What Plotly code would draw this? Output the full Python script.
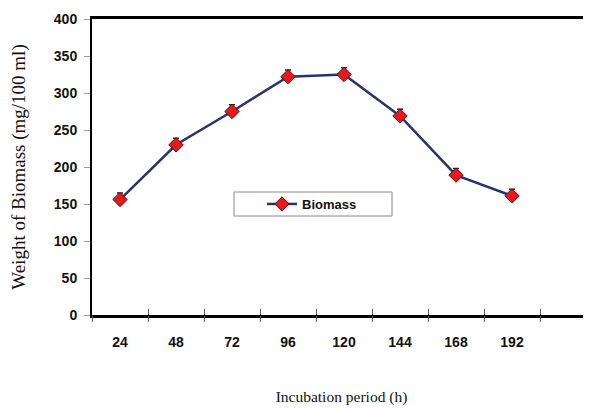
import plotly.graph_objects as go

categories = ["24", "48", "72", "96", "120", "144", "168", "192"]
biomass = [156, 230, 275, 322, 325, 269, 189, 161]
errors = [9, 9, 9, 9, 9, 9, 9, 9]
y_ticks = [0, 50, 100, 150, 200, 250, 300, 350, 400]

xpos = list(range(len(categories)))
# page body has an 8px margin, so the figure is made 8px smaller
OFF = 8
W, H = 591 - OFF, 408 - OFF
PL, PT, PB = 92, 19, 315           # plot area in page pixels
L, T = PL - OFF, PT - OFF
B = H - (PB - OFF)
PW, PH = W - L, H - T - B
xmax = -0.5 + PW / 56.0

def px(x):
    return (x - PL) / PW

def py(y):
    return (PB - y) / PH

lab_font = dict(family="Liberation Sans, Arial", size=14, color="#111")
serif = "Liberation Serif, Times New Roman"

fig = go.Figure()
fig.add_trace(go.Scatter(
    x=xpos, y=biomass, mode="lines+markers", name="<b>Biomass</b>",
    line=dict(color="#27336F", width=2.5),
    marker=dict(symbol="diamond", size=11, color="#E8191E", line=dict(color="#5A1010", width=1)),
    error_y=dict(type="data", symmetric=False, array=errors, arrayminus=[0]*len(errors),
                 color="#222", thickness=1.5, width=3),
))
fig.add_trace(go.Scatter(x=[0], y=[0], xaxis="x2", yaxis="y", showlegend=False,
                         mode="markers", marker=dict(opacity=0), hoverinfo="skip"))
fig.add_trace(go.Scatter(x=[0], y=[0], xaxis="x3", yaxis="y", showlegend=False,
                         mode="markers", marker=dict(opacity=0), hoverinfo="skip"))

# legend frame
fig.add_shape(type="rect", xref="paper", yref="paper",
              x0=px(234), x1=px(392), y0=py(216), y1=py(192),
              line=dict(color="#888", width=1), fillcolor="white", layer="below")

half = [i - 0.5 for i in range(len(categories) + 2)]
fig.update_layout(
    width=W, height=H,
    margin=dict(l=L, r=0, t=T, b=B),
    paper_bgcolor="white", plot_bgcolor="rgba(0,0,0,0)",
    xaxis=dict(range=[-0.5, xmax], tickvals=xpos, ticktext=["<b>%s</b>" % c for c in categories],
               ticks="", showgrid=False, zeroline=False, showline=True, mirror=True,
               linecolor="black", linewidth=2.5, tickfont=lab_font, ticklabelstandoff=12,
               automargin=False,
               title=dict(text="Incubation period (h)", standoff=43,
                          font=dict(family=serif, size=15.5, color="#111"))),
    xaxis2=dict(range=[-0.5, xmax], overlaying="x", tickvals=half, showticklabels=False,
                ticks="outside", ticklen=6, tickcolor="#555", tickwidth=1, showgrid=False,
                zeroline=False, showline=False, automargin=False),
    xaxis3=dict(range=[-0.5, xmax], overlaying="x", tickvals=half, showticklabels=False,
                ticks="inside", ticklen=6, tickcolor="#555", tickwidth=1, showgrid=False,
                zeroline=False, showline=False, automargin=False),
    yaxis=dict(range=[0, 400], tickvals=y_ticks, ticktext=["<b>%d</b>" % v for v in y_ticks],
               ticks="outside", ticklen=6, tickcolor="#999", showgrid=False, zeroline=False,
               showline=True, linecolor="black", linewidth=2, tickfont=lab_font,
               ticklabelstandoff=4, automargin=False,
               title=dict(text="Weight of Biomass (mg/100 ml)", standoff=24,
                          font=dict(family=serif, size=19, color="#111"))),
    legend=dict(x=px(262), y=py(204), xanchor="left", yanchor="middle",
                borderwidth=0, bgcolor="rgba(0,0,0,0)",
                font=dict(family="Liberation Sans, Arial", size=13, color="#111")),
    showlegend=True,
)
fig.write_html("out.html")
